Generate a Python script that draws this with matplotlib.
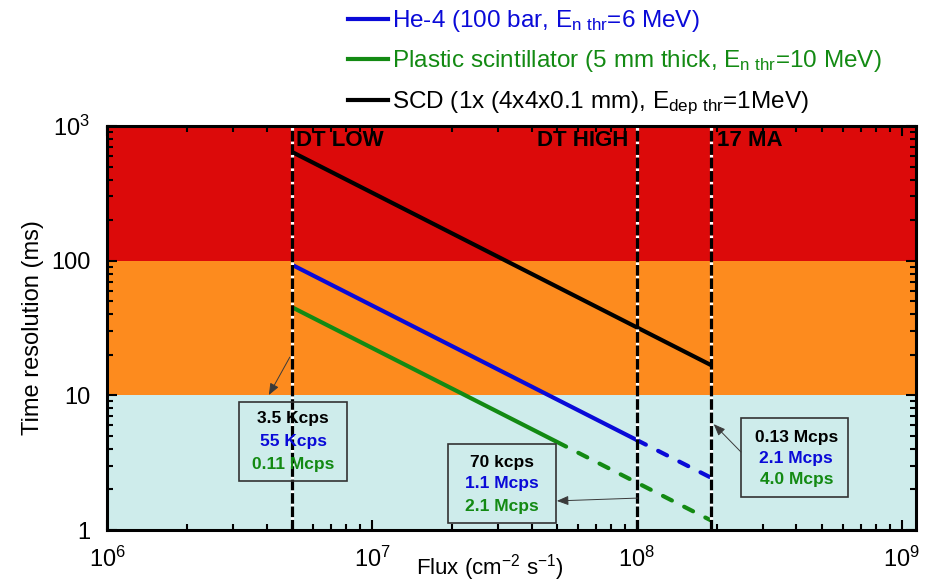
import matplotlib
matplotlib.use('Agg')
import matplotlib.pyplot as plt
from matplotlib.lines import Line2D
from matplotlib.patches import Rectangle

plt.rcParams['font.family'] = ['Liberation Sans', 'DejaVu Sans']
plt.rcParams['mathtext.default'] = 'regular'

# Colours
RED = '#dc0a0a'
ORANGE = '#fd8b1e'
CYAN = '#ceeceb'
BLUE = '#0a0ad8'
GREEN = '#138a13'

# Data
band_edges = [1, 10, 100, 1000]
band_colors = [CYAN, ORANGE, RED]

scenario_flux = [5e6, 1e8, 1.9e8]
scenario_names = ['DT LOW', 'DT HIGH', '17 MA']

scd_flux = [5e6, 1.9e8]
scd_time = [640, 16.8]

he_flux_solid = [5e6, 1e8]
he_time_solid = [93, 4.65]
he_flux_dash = [1e8, 1.9e8]
he_time_dash = [4.65, 2.45]

pl_flux_solid = [5e6, 5e7]
pl_time_solid = [45, 4.5]
pl_flux_dash = [5e7, 1.9e8]
pl_time_dash = [4.5, 1.18]

legend_labels = [
    r'He-4 (100 bar, E$_{n\ thr}$=6 MeV)',
    r'Plastic scintillator (5 mm thick, E$_{n\ thr}$=10 MeV)',
    r'SCD (1x (4x4x0.1 mm), E$_{dep\ thr}$=1MeV)',
]
legend_colors = [BLUE, GREEN, 'black']

# count rates per scenario: (SCD, He-4, plastic)
rates_low = ['3.5 Kcps', '55 Kcps', '0.11 Mcps']
rates_high = ['70 kcps', '1.1 Mcps', '2.1 Mcps']
rates_17ma = ['0.13 Mcps', '2.1 Mcps', '4.0 Mcps']
rate_colors = ['black', BLUE, GREEN]

fig = plt.figure(figsize=(9.34, 5.83), dpi=100)
ax = fig.add_axes([0.1146, 0.0909, 0.8661, 0.693])
ax.set_xscale('log')
ax.set_yscale('log')
ax.set_xlim(1e6, 1.13e9)
ax.set_ylim(1, 1000)

for lo, hi, c in zip(band_edges[:-1], band_edges[1:], band_colors):
    ax.axhspan(lo, hi, color=c, zorder=0, lw=0)

for f in scenario_flux:
    ax.axvline(f, color='black', lw=2.3, linestyle=(0, (3.3, 0.9)),
               gapcolor='white', zorder=3)

ax.plot(scd_flux, scd_time, color='black', lw=3, solid_capstyle='butt', zorder=2)
ax.plot(he_flux_solid, he_time_solid, color=BLUE, lw=3, solid_capstyle='butt', zorder=2)
ax.plot(he_flux_dash, he_time_dash, color=BLUE, lw=3, linestyle=(0, (2.4, 3.3)),
        dash_capstyle='round', zorder=2)
ax.plot(pl_flux_solid, pl_time_solid, color=GREEN, lw=3, solid_capstyle='butt', zorder=2)
ax.plot(pl_flux_dash, pl_time_dash, color=GREEN, lw=3, linestyle=(0, (2.4, 3.3)),
        dash_capstyle='round', zorder=2)

# scenario labels
ax.text(0.234, 0.99, scenario_names[0], transform=ax.transAxes, fontsize=16,
        fontweight='bold', ha='left', va='top', zorder=4)
ax.text(0.644, 0.99, scenario_names[1], transform=ax.transAxes, fontsize=16,
        fontweight='bold', ha='right', va='top', zorder=4)
ax.text(0.754, 0.99, scenario_names[2], transform=ax.transAxes, fontsize=16,
        fontweight='bold', ha='left', va='top', zorder=4)

# rate boxes
boxes = [
    ((0.163, 0.121, 0.134, 0.196), 0.230, [0.277, 0.218, 0.163], rates_low,
     (0.226, 0.428), (0.200, 0.334)),
    ((0.4215, 0.017, 0.1335, 0.196), 0.488, [0.166, 0.114, 0.059], rates_high,
     (0.656, 0.079), (0.556, 0.072)),
    ((0.7837, 0.082, 0.1323, 0.195), 0.852, [0.230, 0.178, 0.126], rates_17ma,
     (0.7837, 0.193), (0.750, 0.262)),
]
for (bx, by, bw, bh), cx, ys, texts, tail, head in boxes:
    ax.add_patch(Rectangle((bx, by), bw, bh, transform=ax.transAxes, fill=False,
                           edgecolor='#333333', lw=1.2, zorder=4))
    for y, t, c in zip(ys, texts, rate_colors):
        ax.text(cx, y, t, transform=ax.transAxes, fontsize=12.5, fontweight='bold',
                color=c, ha='center', va='center', zorder=5)
    ax.annotate('', xy=head, xycoords='axes fraction', xytext=tail,
                textcoords='axes fraction', zorder=5,
                arrowprops=dict(arrowstyle='-|>,head_length=0.5,head_width=0.2',
                                color='#3a3a3a', lw=0.7, shrinkA=0, shrinkB=0,
                                mutation_scale=14))

# axes styling
for s in ax.spines.values():
    s.set_linewidth(2.2)
    s.set_zorder(6)
ax.tick_params(which='both', direction='in', top=True, right=True, width=1.5)
ax.tick_params(which='major', length=7, labelsize=17, pad=12)
ax.tick_params(which='minor', length=4)
ax.set_yticks([1, 10, 100, 1000])
ax.set_yticklabels(['1', '10', '100', r'$10^3$'])
ax.tick_params(axis='y', which='major', pad=12)

ax.set_xlabel(r'Flux (cm$^{-2}$ s$^{-1}$)', fontsize=16)
ax.xaxis.set_label_coords(0.473, -0.055)
ax.set_ylabel('Time resolution (ms)', fontsize=17)
ax.yaxis.set_label_coords(-0.078, 0.5)

# legend drawn above the axes
row_y = [19, 59, 100]
for y, lab, c in zip(row_y, legend_labels, legend_colors):
    yf = 1 - y / 583
    fig.add_artist(Line2D([348 / 934, 388 / 934], [yf, yf], color=c, lw=3))
    fig.text(392 / 934, 1 - (y + 8) / 583, lab, color=c, fontsize=17.5,
             ha='left', va='baseline')

fig.savefig('out.png', dpi=100)
